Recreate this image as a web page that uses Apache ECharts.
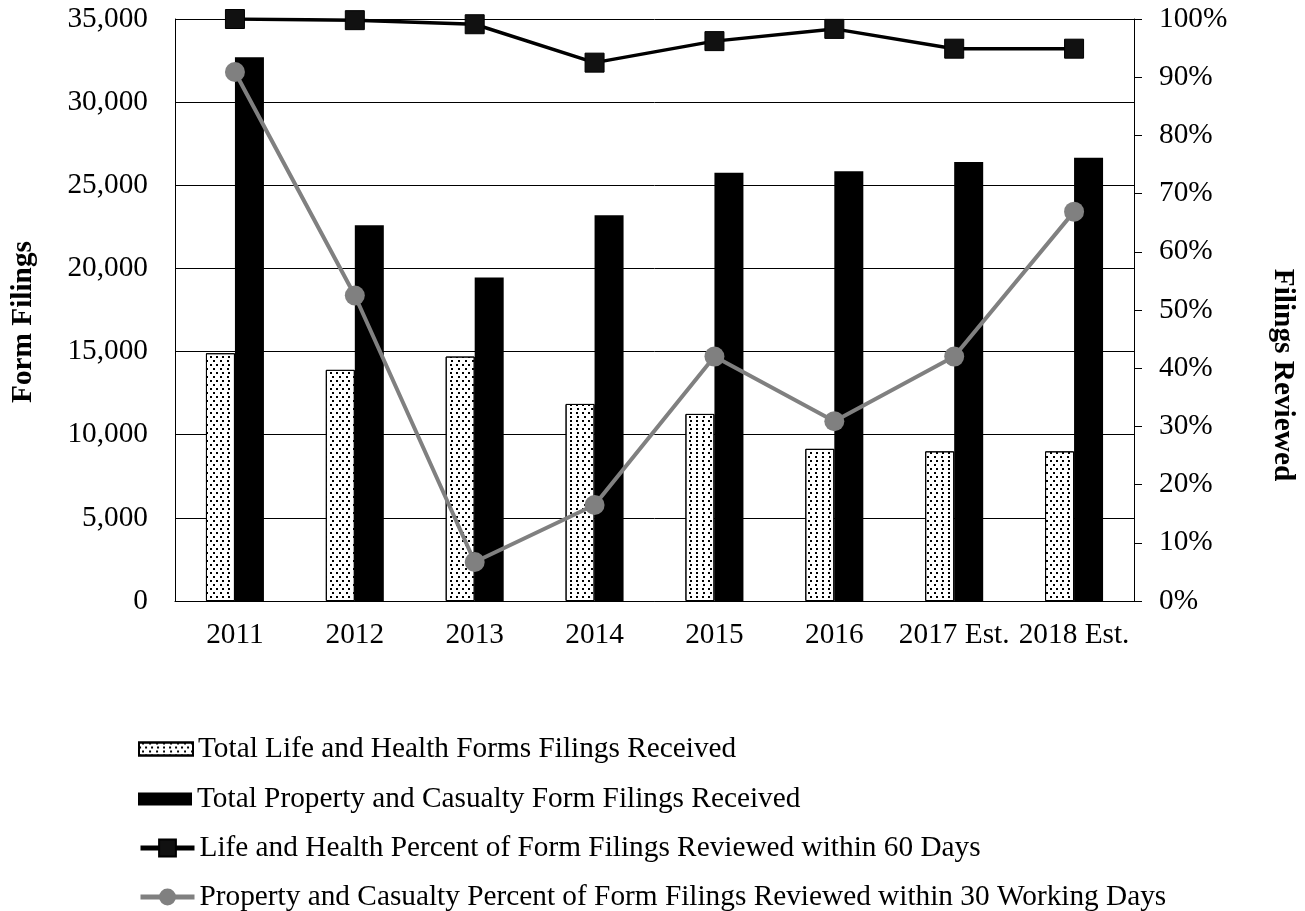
<!DOCTYPE html>
<html>
<head>
<meta charset="utf-8">
<script src="https://cdn.jsdelivr.net/npm/echarts@6/dist/echarts.min.js"></script>
<style>
  html, body { margin: 0; padding: 0; background: #fff; }
  #chart { width: 1305px; height: 911px; }
</style>
</head>
<body>
<div id="chart"></div>
<script>
// values
var years = ['2011', '2012', '2013', '2014', '2015', '2016', '2017 Est.', '2018 Est.']
var lifeHealthFilings = [14900, 13900, 14700, 11850, 11250, 9150, 9000, 9000]
var propCasFilings = [32700, 22600, 19450, 23200, 25750, 25850, 26400, 26650]
var lifeHealthPct = [1.0, 0.998, 0.991, 0.925, 0.962, 0.983, 0.949, 0.949]
var propCasPct = [0.909, 0.525, 0.067, 0.165, 0.42, 0.309, 0.42, 0.669]
var leftTicks = { min: 0, max: 35000, interval: 5000 }
var rightTicks = { min: 0, max: 1, interval: 0.1 }
var seriesNames = [
  'Total Life and Health Forms Filings Received',
  'Total Property and Casualty Form Filings Received',
  'Life and Health Percent of Form Filings Reviewed within 60 Days',
  'Property and Casualty Percent of Form Filings Reviewed within 30 Working Days'
]

var font = 'Liberation Serif, Times New Roman, serif'
var fs = 29.3
var chart = echarts.init(document.getElementById('chart'))

// one legend per row so the rows sit where the reference has them
var legendTops = [734, 784, 833, 882]
var legends = seriesNames.map(function (name, i) {
  var isLine = i >= 2
  return {
    orient: 'vertical',
    left: 138,
    top: legendTops[i],
    padding: 0,
    itemWidth: 54,
    itemHeight: isLine ? 21 : 13,
    icon: isLine ? undefined : 'rect',
    lineStyle: isLine ? { width: 5 } : undefined,
    textStyle: { fontFamily: font, fontSize: fs, lineHeight: 30, color: '#000' },
    data: [name]
  }
})

var option = {
  animation: false,
  textStyle: { fontFamily: font, color: '#000' },
  grid: { left: 175, right: 171, top: 19, bottom: 310 },
  legend: legends,
  xAxis: {
    type: 'category',
    data: years,
    axisLine: { lineStyle: { color: '#000', width: 1 } },
    axisTick: { show: false },
    axisLabel: { fontFamily: font, fontSize: fs, color: '#000', margin: 20, interval: 0, hideOverlap: false }
  },
  yAxis: [
    {
      type: 'value',
      min: leftTicks.min,
      max: leftTicks.max,
      interval: leftTicks.interval,
      name: 'Form Filings',
      nameLocation: 'middle',
      nameGap: 137,
      nameTextStyle: { fontFamily: font, fontSize: fs, fontWeight: 'bold', color: '#000', padding: [0, 24, 0, 0] },
      axisLine: { show: true, lineStyle: { color: '#000', width: 1 } },
      axisTick: { show: false },
      splitLine: { lineStyle: { color: '#000', width: 1 } },
      axisLabel: {
        fontFamily: font, fontSize: fs, color: '#000', margin: 27,
        formatter: function (v) { return v.toLocaleString('en-US') }
      }
    },
    {
      type: 'value',
      min: rightTicks.min,
      max: rightTicks.max,
      interval: rightTicks.interval,
      name: 'Filings Reviewed',
      nameLocation: 'middle',
      nameRotate: -90,
      nameGap: 134,
      nameTextStyle: { fontFamily: font, fontSize: fs, fontWeight: 'bold', color: '#000', padding: [0, 0, 0, 130] },
      axisLine: { show: true, lineStyle: { color: '#000', width: 1 } },
      axisTick: { show: true, length: 8, lineStyle: { color: '#000' } },
      splitLine: { show: false },
      axisLabel: {
        fontFamily: font, fontSize: fs, color: '#000', margin: 25,
        formatter: function (v) { return Math.round(v * 100) + '%' }
      }
    }
  ],
  series: [
    {
      name: seriesNames[0],
      type: 'bar',
      data: lifeHealthFilings,
      barWidth: 29,
      barGap: '0%',
      itemStyle: {
        color: '#fff',
        borderColor: '#000',
        borderWidth: 1,
        decal: {
          symbol: 'rect',
          symbolSize: 1,
          color: '#000',
          dashArrayX: [[1.3, 3.7], [0, 2.5, 1.3, 1.2]],
          dashArrayY: [1.3, 1.2],
          rotation: 0
        }
      }
    },
    {
      name: seriesNames[1],
      type: 'bar',
      data: propCasFilings,
      barWidth: 29,
      barGap: '0%',
      itemStyle: { color: '#000' }
    },
    {
      name: seriesNames[2],
      type: 'line',
      yAxisIndex: 1,
      data: lifeHealthPct,
      symbol: 'rect',
      symbolSize: 19,
      lineStyle: { color: '#000', width: 3.5 },
      itemStyle: { color: '#111', borderColor: '#000', borderWidth: 1 },
      z: 3
    },
    {
      name: seriesNames[3],
      type: 'line',
      yAxisIndex: 1,
      data: propCasPct,
      symbol: 'circle',
      symbolSize: 20,
      lineStyle: { color: '#808080', width: 4 },
      itemStyle: { color: '#808080' },
      z: 4
    }
  ]
}

chart.setOption(option)
</script>
</body>
</html>
